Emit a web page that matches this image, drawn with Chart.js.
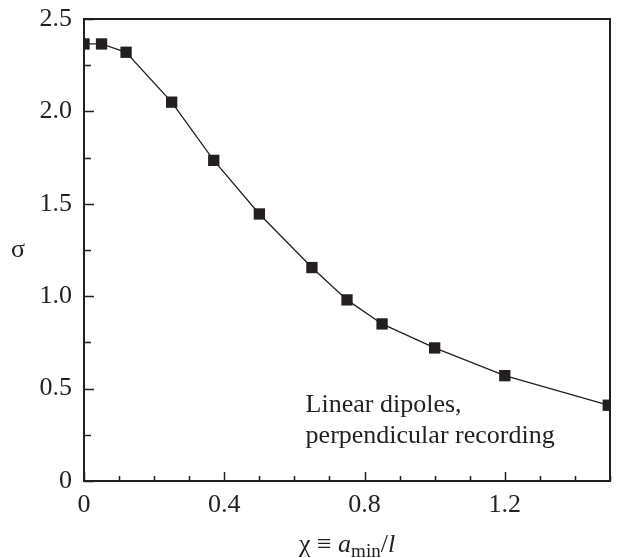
<!DOCTYPE html>
<html>
<head>
<meta charset="utf-8">
<script src="https://cdn.jsdelivr.net/npm/chart.js@4.4.0/dist/chart.umd.min.js"></script>
<style>
  html, body { margin: 0; padding: 0; background: #fff; }
</style>
</head>
<body>
<canvas id="sigma-chart" width="618" height="558"></canvas>
<script>
// values
const chi = [0, 0.05, 0.12, 0.25, 0.37, 0.5, 0.65, 0.75, 0.85, 1.0, 1.2, 1.495];
const sigma = [2.365, 2.365, 2.32, 2.05, 1.735, 1.445, 1.155, 0.98, 0.85, 0.72, 0.57, 0.41];
const xTickLabels = ['0', '0.4', '0.8', '1.2'];
const yTickLabels = ['0', '0.5', '1.0', '1.5', '2.0', '2.5'];
const noteLines = ['Linear dipoles,', 'perpendicular recording'];

const ink = '#231f20';
const serif = '"Liberation Serif", "Times New Roman", serif';

// label only every 4th x tick (0.4) and every 2nd y tick (0.5)
function majorLabel(v, step, labels) {
  const k = v / step;
  const r = Math.round(k);
  if (Math.abs(k - r) > 1e-6) return '';
  return labels[r] || '';
}

// axes box, inward ticks and the text that chart.js can't style itself
const frame = {
  id: 'frame',
  afterDraw(chart) {
    const { ctx, chartArea: a, scales: { x, y } } = chart;
    ctx.save();
    ctx.strokeStyle = ink;
    ctx.lineWidth = 1.5;
    ctx.beginPath();
    x.ticks.forEach(t => {
      const px = Math.round(x.getPixelForValue(t.value)) + 0.5;
      ctx.moveTo(px, a.bottom);
      ctx.lineTo(px, a.bottom - (t.label ? 9 : 5));
    });
    y.ticks.forEach(t => {
      const py = Math.round(y.getPixelForValue(t.value)) + 0.5;
      ctx.moveTo(a.left, py);
      ctx.lineTo(a.left + (t.label ? 10 : 7), py);
    });
    ctx.stroke();

    ctx.lineWidth = 2;
    ctx.strokeRect(a.left, a.top, a.right - a.left, a.bottom - a.top);

    ctx.fillStyle = ink;
    ctx.textBaseline = 'alphabetic';

    // note inside the plot
    ctx.font = '26px ' + serif;
    ctx.textAlign = 'left';
    const nx = x.getPixelForValue(0.632);
    const ny = y.getPixelForValue(0.372);
    noteLines.forEach((s, i) => ctx.fillText(s, nx, ny + i * 31));

    // y title
    ctx.textAlign = 'center';
    ctx.fillText('\u03c3', 18, 257);

    // x title: χ ≡ a_min/l
    const parts = [
      { s: '\u03c7 \u2261 ', f: '26px ' + serif, dy: 0 },
      { s: 'a', f: 'italic 26px ' + serif, dy: 0 },
      { s: 'min', f: '19px ' + serif, dy: 5 },
      { s: '/', f: '26px ' + serif, dy: 0 },
      { s: 'l', f: 'italic 26px ' + serif, dy: 0 }
    ];
    let total = 0;
    parts.forEach(p => { ctx.font = p.f; p.w = ctx.measureText(p.s).width; total += p.w; });
    let cx = (a.left + a.right) / 2 - total / 2;
    ctx.textAlign = 'left';
    parts.forEach(p => {
      ctx.font = p.f;
      ctx.fillText(p.s, cx, 552 + p.dy);
      cx += p.w;
    });
    ctx.restore();
  }
};

new Chart(document.getElementById('sigma-chart'), {
  type: 'scatter',
  data: {
    datasets: [{
      data: chi.map((c, i) => ({ x: c, y: sigma[i] })),
      showLine: true,
      borderColor: ink,
      borderWidth: 1.3,
      backgroundColor: ink,
      pointStyle: 'rect',
      pointRadius: 8,
      pointBorderWidth: 0,
      tension: 0,
      clip: 0
    }]
  },
  options: {
    responsive: false,
    animation: false,
    devicePixelRatio: 1,
    layout: { padding: { top: 19, right: 5, left: 0, bottom: 0 } },
    plugins: { legend: { display: false }, tooltip: { enabled: false } },
    scales: {
      x: {
        type: 'linear',
        min: 0, max: 1.5,
        afterFit(scale) {
          scale.height = 77;
          scale.paddingLeft = 0;
          scale.paddingRight = 0;
        },
        grid: { display: false, drawTicks: false },
        border: { display: false },
        ticks: {
          stepSize: 0.1,
          autoSkip: false,
          maxRotation: 0,
          padding: 9,
          color: ink,
          font: { family: serif, size: 26 },
          callback: v => majorLabel(v, 0.4, xTickLabels)
        }
      },
      y: {
        type: 'linear',
        min: 0, max: 2.5,
        afterFit(scale) {
          scale.width = 84;
          scale.paddingTop = 0;
          scale.paddingBottom = 0;
        },
        grid: { display: false, drawTicks: false },
        border: { display: false },
        ticks: {
          stepSize: 0.25,
          autoSkip: false,
          padding: 12,
          color: ink,
          font: { family: serif, size: 26 },
          callback: v => majorLabel(v, 0.5, yTickLabels)
        }
      }
    }
  },
  plugins: [frame]
});
</script>
</body>
</html>
